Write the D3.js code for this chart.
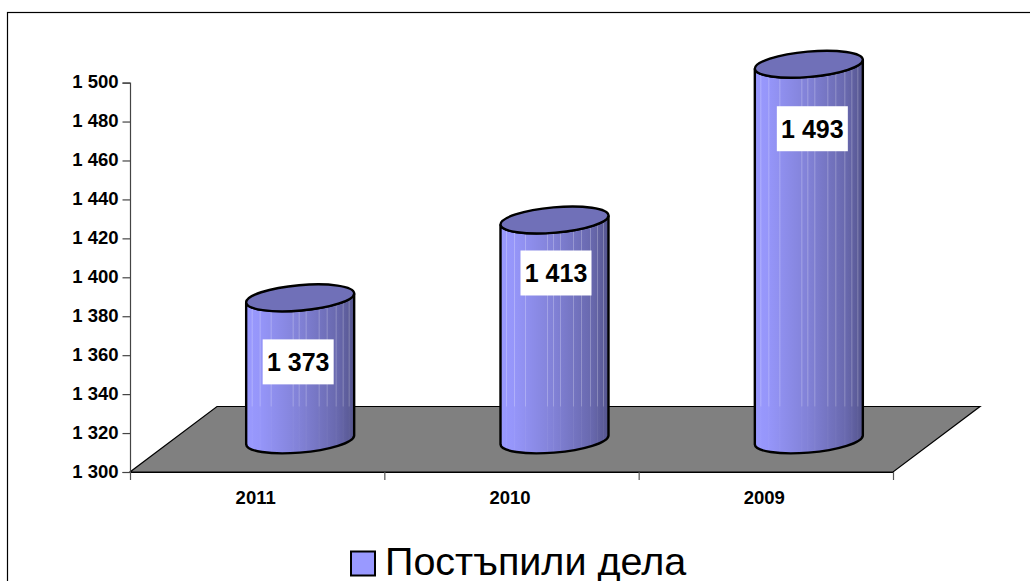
<!DOCTYPE html>
<html><head><meta charset="utf-8">
<script src="https://cdnjs.cloudflare.com/ajax/libs/d3/7.8.5/d3.min.js"></script>
<style>html,body{margin:0;padding:0;background:#fff;overflow:hidden}svg{display:block}text{font-family:"Liberation Sans",Arial,sans-serif}</style>
</head><body>
<script>
const categories = ["2011","2010","2009"];
const values = [1373,1413,1493];
const seriesName = "Постъпили дела";
const yTicks = [1300,1320,1340,1360,1380,1400,1420,1440,1460,1480,1500];
const W=1030,H=581;
const svg=d3.select("body").append("svg").attr("width",W).attr("height",H);
const defs=svg.append("defs");
const grad=defs.append("linearGradient").attr("id","body").attr("x1","0").attr("x2","1").attr("y1","0").attr("y2","0");
[[0,"#9999ff"],[0.12,"#9696fa"],[0.5,"#8181d6"],[0.85,"#6868ad"],[1,"#55558e"]].forEach(s=>grad.append("stop").attr("offset",s[0]).attr("stop-color",s[1]));

svg.append("rect").attr("x",7.5).attr("y",12.5).attr("width",1040).attr("height",600).attr("fill","#fff").attr("stroke","#000").attr("stroke-width",1.2);

const y=d3.scaleLinear().domain([1300,1500]).range([472,82.6]);
const xEdges=d3.scaleLinear().domain([0,categories.length]).range([130,893]);
const x=d3.scaleBand().domain(categories).range([130,893]);
const depthX=87,depthY=-65.5;
const midX=43,midY=-32;

// floor
svg.append("path").attr("fill","#808080").attr("stroke","#000").attr("stroke-width",1.2).attr("stroke-linejoin","miter")
 .attr("d",d3.line()([[x.range()[0],y(1300)],[x.range()[1],y(1300)],[x.range()[1]+depthX,y(1300)+depthY],[x.range()[0]+depthX,y(1300)+depthY]])+"Z");

// axes
const fmt=d3.formatLocale({decimal:".",thousands:" ",grouping:[3],currency:["",""]}).format(",d");
const gy=svg.append("g").attr("transform","translate(130,0)").call(d3.axisLeft(y).tickValues(yTicks).tickSize(7.5).tickPadding(4).tickFormat(fmt));
gy.selectAll("text").attr("font-size",18.5).attr("font-weight","bold").attr("fill","#000").attr("dy","0.28em").style("font-family",'"Liberation Sans"');
gy.selectAll("line,path").attr("stroke","#444").attr("stroke-width",1.2);
const gx=svg.append("g").attr("transform","translate(0,472)").call(d3.axisBottom(xEdges).tickValues(d3.range(categories.length+1)).tickSize(8).tickSizeOuter(0).tickFormat(""));
gx.selectAll("line").attr("stroke","#555").attr("stroke-width",1.2);
gx.select("path").attr("stroke","#000").attr("stroke-width",1.2);
svg.append("g").selectAll("text").data(categories).join("text").attr("x",d=>x(d)+x.bandwidth()/2-1.5).attr("y",503.5).attr("text-anchor","middle").attr("font-size",18.5).attr("font-weight","bold").text(d=>d);

// cylinders
const a=54.2,b=12.7,rot=-5,hw=54,tilt=4.4;
const streaks=[6,14,25,47,53,60,73,81,90,97,103];
const labelDX=[-2,1.5,3.5],labelDY=[64,53,64.5];
const floorBack=y(1300)+depthY;
categories.forEach((c,i)=>{
 const cx=x(c)+x.bandwidth()/2+midX, base=y(1300)+midY, top=y(values[i])+midY;
 const g=svg.append("g");
 const bodyD=`M${cx-hw},${top+tilt}L${cx-hw},${base+tilt}A${a},${b} ${rot} 0 0 ${cx+hw},${base-tilt}L${cx+hw},${top-tilt}A${a},${b} ${rot} 0 1 ${cx-hw},${top+tilt}Z`;
 g.append("path").attr("d",bodyD).attr("fill","url(#body)");
 const clipId="clip"+i;
 defs.append("clipPath").attr("id",clipId).append("path").attr("d",bodyD);
 const s=g.append("g").attr("clip-path",`url(#${clipId})`);
 streaks.forEach(o=>{
  s.append("line").attr("x1",cx-hw+o).attr("x2",cx-hw+o).attr("y1",top).attr("y2",floorBack).attr("stroke","#fff").attr("stroke-opacity",.25).attr("stroke-width",1);
  s.append("line").attr("x1",cx-hw+o).attr("x2",cx-hw+o).attr("y1",floorBack).attr("y2",base+20).attr("stroke","#fff").attr("stroke-opacity",.05).attr("stroke-width",1);
 });
 g.append("path").attr("d",bodyD).attr("fill","none").attr("stroke","#000").attr("stroke-width",2.4);
 g.append("ellipse").attr("cx",0).attr("cy",0).attr("rx",a).attr("ry",b).attr("transform",`translate(${cx},${top}) rotate(${rot})`).attr("fill","#7070b8").attr("stroke","#000").attr("stroke-width",2.4);
 const lx=cx+labelDX[i], ly=top+labelDY[i];
 g.append("rect").attr("x",lx-35.5).attr("y",ly-22.5).attr("width",71).attr("height",45).attr("fill","#fff");
 g.append("text").attr("x",lx).attr("y",ly+9).attr("text-anchor","middle").attr("font-size",25).attr("font-weight","bold").text(fmt(values[i]));
});

// legend
svg.append("rect").attr("x",351).attr("y",551.5).attr("width",24).attr("height",24).attr("fill","#9999ff").attr("stroke","#000").attr("stroke-width",2);
svg.append("text").attr("x",385).attr("y",575).attr("font-size",39.5).text(seriesName);
</script>
</body></html>
